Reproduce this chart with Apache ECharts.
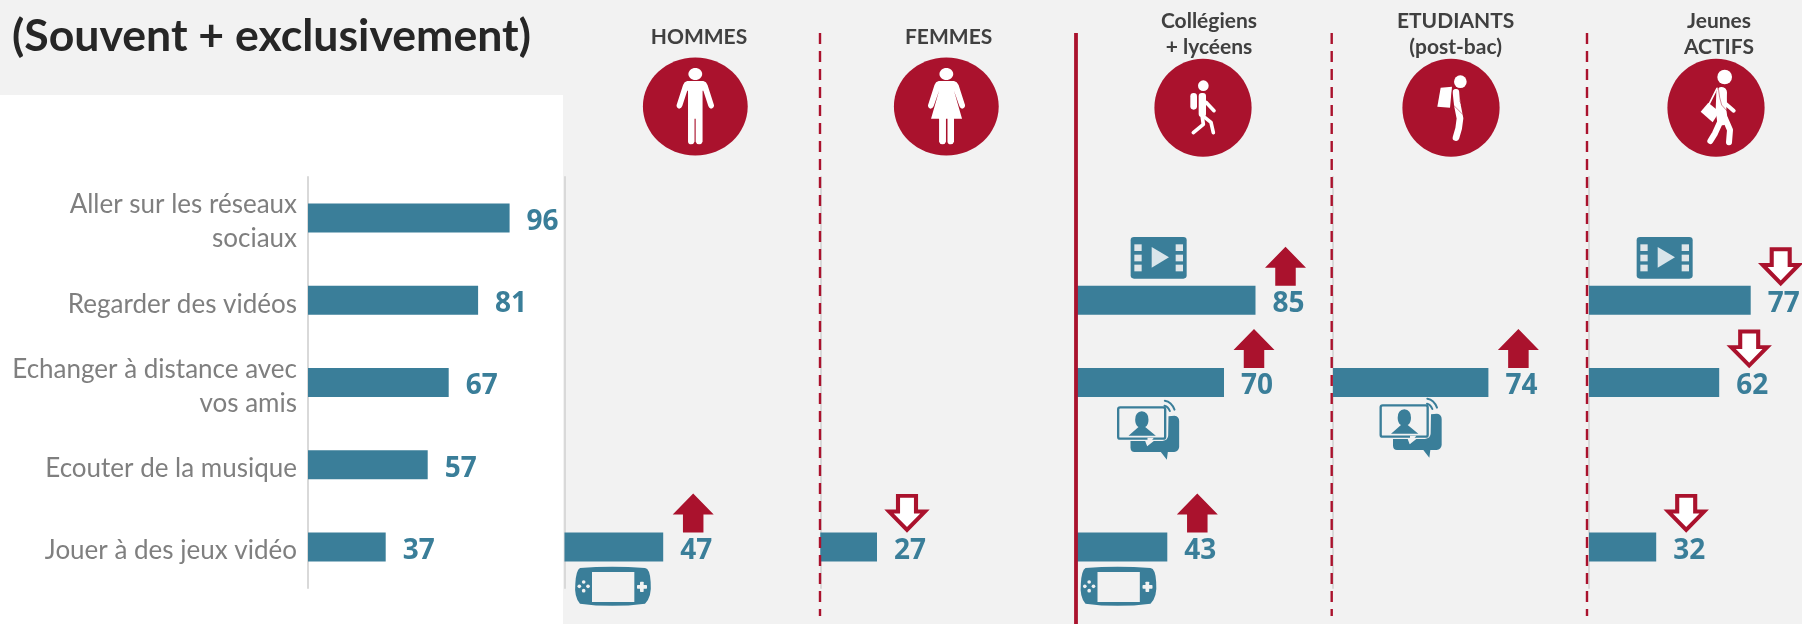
<!DOCTYPE html>
<html><head><meta charset="utf-8">
<style>html,body{margin:0;padding:0;background:#f2f2f2}#c{width:1802px;height:624px}</style>
<script src="https://cdn.jsdelivr.net/npm/echarts@6/dist/echarts.min.js"></script>
</head><body><div id="c"></div>
<script>
const categories = ['Aller sur les réseaux\nsociaux','Regarder des vidéos','Echanger à distance avec\nvos amis','Ecouter de la musique','Jouer à des jeux vidéo'];
const totalValues    = [96,81,67,57,37];
const hommesValues   = [null,null,null,null,47];
const femmesValues   = [null,null,null,null,27];
const collegeValues  = [null,85,70,null,43];
const etudiantValues = [null,null,74,null,null];
const actifsValues   = [null,77,62,null,32];
const hommesTrend    = [null,null,null,null,'up'];
const femmesTrend    = [null,null,null,null,'down'];
const collegeTrend   = [null,'up','up',null,'up'];
const etudiantTrend  = [null,null,'up',null,null];
const actifsTrend    = [null,'down','down',null,'down'];
const mainTitle = '(Souvent + exclusivement)';
const headers = ['HOMMES','FEMMES','Collégiens\n+ lycéens','ETUDIANTS\n(post-bac)','Jeunes\nACTIFS'];

const TEAL='#3a7e99', RED='#aa122d', BG='#f2f2f2', FONT='Lato, "Open Sans", sans-serif';

// small pictogram shape: M/L/Q/Z path data
echarts.graphic.registerShape('pict', echarts.graphic.extendShape({
  shape:{d:''},
  buildPath(ctx,shape){
    const t=shape.d.match(/[MLQZ]|-?[\d.]+/g)||[];
    let i=0;
    const n=()=>parseFloat(t[i++]);
    while(i<t.length){
      const c=t[i++];
      if(c==='M'){const x=n(),y=n();ctx.moveTo(x,y);}
      else if(c==='L'){const x=n(),y=n();ctx.lineTo(x,y);}
      else if(c==='Q'){const a=n(),b=n(),x=n(),y=n();ctx.quadraticCurveTo(a,b,x,y);}
      else if(c==='Z'){ctx.closePath();}
    }
  }
}));

const panels=[
 {left:308, values:totalValues, trend:null},
 {left:564.5, values:hommesValues, trend:hommesTrend},
 {left:820.3, values:femmesValues, trend:femmesTrend},
 {left:1077, values:collegeValues, trend:collegeTrend},
 {left:1333, values:etudiantValues, trend:etudiantTrend},
 {left:1589, values:actifsValues, trend:actifsTrend}
];
const UP='path://M50 0L100 54L75 54L75 100L25 100L25 54L0 54Z';
const DOWN='path://M25 0L75 0L75 46L100 46L50 100L0 46L25 46Z';

const grid=[],xAxis=[],yAxis=[],series=[];
panels.forEach((p,i)=>{
  grid.push({left:p.left,top:177,width:210,height:411,containLabel:false});
  xAxis.push({gridIndex:i,type:'value',min:0,max:100,show:false});
  yAxis.push({gridIndex:i,type:'category',inverse:true,data:categories,
    axisLine:{show:true,onZero:false,lineStyle:{color:'#d9d9d9',width:2}},axisTick:{show:false},splitLine:{show:false},
    axisLabel:i===0?{show:true,margin:11,align:'right',interval:0,
      formatter:v=>v.split('\n').map(s=>'{a|'+s+'}').join('\n'),
      rich:{a:{color:'#7f7f7f',fontFamily:FONT,fontSize:26,lineHeight:34,padding:[8,0,0,0],align:'right'}}}:{show:false}});
  series.push({type:'bar',xAxisIndex:i,yAxisIndex:i,data:p.values,barWidth:29,z:3,
    itemStyle:{color:TEAL},
    label:{show:true,position:'right',distance:16,offset:[1,4],color:TEAL,fontFamily:'"Open Sans", sans-serif',fontWeight:'bold',fontSize:28},
    emphasis:{disabled:true},animation:false});
  if(p.trend){
    ['up','down'].forEach(kind=>{
      const data=[];
      p.trend.forEach((t,r)=>{ if(t===kind) data.push([p.values[r],r]); });
      if(!data.length) return;
      series.push({type:'scatter',xAxisIndex:i,yAxisIndex:i,data,clip:false,z:4,animation:false,silent:true,
        symbol:kind==='up'?UP:DOWN,
        symbolSize:kind==='up'?[41,39]:[36,34],
        symbolOffset:[30,-34],
        itemStyle:kind==='up'?{color:RED,opacity:1}:{color:'#fff',borderColor:RED,borderWidth:4,opacity:1}});
    });
  }
});

const titles=[{text:mainTitle,left:12,top:14,padding:0,textStyle:{fontFamily:FONT,fontWeight:'bold',fontSize:44.6,color:'#262626'}}];
const hx=[699,948.6,1209,1455.6,1719];
headers.forEach((h,i)=>{
  const two=h.includes('\n');
  titles.push({text:h,left:hx[i],top:two?8:24,padding:0,textAlign:'center',
    textStyle:{fontFamily:FONT,fontWeight:'bold',fontSize:21,lineHeight:26,color:'#404040'}});
});

// decorative pictograms, drawn in the 3x coordinates of their own crop
function icon(x,y,children){return {type:'group',x,y,scaleX:1/3,scaleY:1/3,children};}
const P=(d,fill)=>({type:'pict',shape:{d},style:{fill,stroke:null}});
const L=(d,w,color)=>({type:'pict',shape:{d},style:{fill:null,stroke:color||'#fff',lineWidth:w,lineCap:'round',lineJoin:'round'}});
const C=(cx,cy,r,fill)=>({type:'circle',shape:{cx,cy,r},style:{fill}});
const R=(x,y,w,h,fill,r)=>({type:'rect',shape:{x,y,width:w,height:h,r:r||0},style:{fill}});

function film(x,y){
  const kids=[R(17,15,168,125,TEAL,10)];
  [37,68,98].forEach(t=>{kids.push(R(28,t,22,20,'#dfe6e9'));kids.push(R(152,t,22,20,'#dfe6e9'));});
  kids.push(P('M80 45L132 76L80 107Z','#d9e5ea'));
  return icon(x,y,kids);
}
function game(x,y){
  return icon(x,y,[
    P('M30 18Q125 10 225 18Q240 20 242 60Q246 105 225 125Q125 138 30 125Q12 105 16 65Q18 25 30 18Z',TEAL),
    R(66,30,127,90,BG),
    C(41,60,5.5,BG),C(41,86,5.5,BG),C(28,73,5.5,BG),C(54,73,5.5,BG),
    R(201,69,30,11,BG,2),R(210,59,11,31,BG,2)
  ]);
}
function chat(x,y){
  return icon(x,y,[
    P('M168 58L186 56Q200 58 200 72L200 150Q198 164 185 165L166 165L163 188L145 165L66 165Q55 165 54 152L54 132L98 132L104 148L124 132L150 132Q167 130 167 115Z',TEAL),
    {type:'rect',shape:{x:17,y:31,width:141,height:94,r:6},style:{fill:BG,stroke:TEAL,lineWidth:7}},
    P('M88 43Q108 45 108 68Q108 84 98 90L130 116L48 116L78 90Q68 84 68 68Q68 45 88 43Z',TEAL),
    P('M105 122L124 122L105 146Z',BG),
    L('M157 11Q177 14 186 38',6,TEAL),L('M156 26Q167 29 172 42',6,TEAL)
  ]);
}
function circle(cx,cy,rx,ry){return {type:'ellipse',shape:{cx,cy,rx,ry},style:{fill:RED}};}

const graphic=[
  {type:'rect',shape:{x:0,y:95,width:563,height:529},style:{fill:'#fff'},z:-10},
  circle(695.3,106.5,52.4,49),circle(946.3,106.5,52.4,49),circle(1203,107.7,48.6,49),circle(1451,107.7,48.6,49),circle(1716,107.7,48.6,49),
  // man and woman
  {type:'group',x:600,y:0,scaleX:1/2.613,scaleY:1/3,children:[
    {type:'ellipse',shape:{cx:249,cy:222,rx:18,ry:18},style:{fill:'#fff'}},
    P('M228 243L270 243Q278 245 281 255L298 316Q298 325 290 326Q285 325 283 318L270 272L268 272L268 425Q266 433 259 433Q252 433 250 425L250 356L247 356L247 425Q245 433 238 433Q231 433 230 425L230 272L228 272L215 318Q213 325 207 326Q200 325 200 316L217 255Q220 245 228 243Z','#fff'),
    {type:'ellipse',shape:{cx:905,cy:222,rx:18,ry:18},style:{fill:'#fff'}},
    P('M885 243L925 243Q933 245 937 255L954 316Q954 325 946 326Q941 325 939 318L925 272L946 356L925 356L925 425Q923 433 916 433Q909 433 908 425L908 356L904 356L904 425Q902 433 895 433Q888 433 886 425L886 356L865 356L886 272L872 318Q870 325 864 326Q857 325 857 316L874 255Q877 245 885 243Z','#fff')
  ]},
  // walker
  icon(1150,55,[
    C(160,92,16,'#fff'),R(121,114,20,50,'#fff',10),R(146,114,22,72,'#fff',9),
    L('M168 142L192 167',11),L('M156 180L160 208L130 233',11),L('M165 188L183 202L190 233',11)
  ]),
  // student
  icon(1400,55,[
    C(181,80,19,'#fff'),P('M122 98L156 95L150 158L112 155Z','#fff'),
    L('M168 112L172 150L180 190L176 220L168 248',20),
    L('M157 108Q150 130 160 150L188 178',1.5,RED),
    L('M179 106L180 140L196 165',1.5,RED)
  ]),
  // active
  icon(1665,55,[
    C(179,66,22,'#fff'),P('M107 170L130 143L163 170L143 202Z','#fff'),
    L('M130 152L156 100',5),
    L('M170 112L168 165L172 195',32),
    L('M168 195L150 235L136 258',18),L('M180 190L195 225L192 262',18),
    L('M176 105L180 145L206 167',12),
    L('M160 100Q163 130 170 150L195 178',1.5,RED)
  ]),
  film(1125,232),film(1631,232),
  game(570,562),game(1075.5,562),
  chat(1112.5,397),chat(1375,395)
];
// panel separators
[820,1331.7,1587].forEach(x=>graphic.push({type:'line',shape:{x1:x,y1:33,x2:x,y2:616},style:{stroke:RED,lineWidth:2.4,lineDash:[11,7]},z:5}));
graphic.push({type:'line',shape:{x1:1076,y1:33,x2:1076,y2:624},style:{stroke:RED,lineWidth:3.8},z:5});

const chart=echarts.init(document.getElementById('c'),null,{renderer:'canvas'});
chart.setOption({backgroundColor:BG,animation:false,title:titles,grid,xAxis,yAxis,series,graphic:{elements:graphic},tooltip:{show:false}});
</script></body></html>
